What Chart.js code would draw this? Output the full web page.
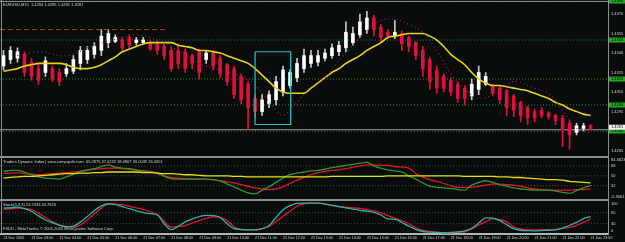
<!DOCTYPE html>
<html>
<head>
<meta charset="utf-8">
<script src="https://cdn.jsdelivr.net/npm/chart.js@4.4.0/dist/chart.umd.min.js"></script>
<style>
  html, body { margin: 0; padding: 0; background: #080c0a; }
</style>
</head>
<body>
<canvas id="mt4" width="625" height="242"></canvas>
<script>
// EURUSD M15, 21 Dec 2005, one bar every 15 minutes from 02:00 to 23:00
const hourLabels = ['21 Dec 2005', '21 Dec 03:00', '21 Dec 04:00', '21 Dec 05:00', '21 Dec 06:00', '21 Dec 07:00',
  '21 Dec 08:00', '21 Dec 09:00', '21 Dec 10:00', '21 Dec 11:00', '21 Dec 12:00', '21 Dec 13:00', '21 Dec 14:00',
  '21 Dec 15:00', '21 Dec 16:00', '21 Dec 17:00', '21 Dec 18:00', '21 Dec 19:00', '21 Dec 20:00', '21 Dec 21:00',
  '21 Dec 22:00', '21 Dec 23:00'];
const barsPerLabel = 4;

const opens = [1.4330, 1.4335, 1.4336, 1.4339, 1.4333, 1.4328, 1.4325, 1.4328, 1.4325, 1.4324,
  1.4326, 1.4332, 1.4335, 1.4339, 1.4342, 1.4348, 1.4349, 1.4350, 1.4352, 1.4348,
  1.4348, 1.4348, 1.4347, 1.4345, 1.4342, 1.4342, 1.4341, 1.4338, 1.4341, 1.4335,
  1.4341, 1.4336, 1.4331, 1.4328, 1.4322, 1.4316, 1.4305, 1.4295, 1.4301, 1.4304,
  1.4310, 1.4315, 1.4321, 1.4328, 1.4332, 1.4333, 1.4336, 1.4338, 1.4341, 1.4344,
  1.4348, 1.4354, 1.4358, 1.4367, 1.4360, 1.4356, 1.4353, 1.4355, 1.4352, 1.4348,
  1.4342, 1.4335, 1.4327, 1.4322, 1.4319, 1.4316, 1.4313, 1.4307, 1.4312, 1.4316,
  1.4315, 1.4313, 1.4311, 1.4307, 1.4302, 1.4298, 1.4295, 1.4296, 1.4294, 1.4292,
  1.4290, 1.4286, 1.4279, 1.4282, 1.4284];
const highs = [1.4342, 1.4345, 1.4344, 1.4341, 1.4336, 1.4332, 1.4337, 1.4330, 1.4328, 1.4332,
  1.4338, 1.4345, 1.4345, 1.4348, 1.4358, 1.4358, 1.4354, 1.4352, 1.4354, 1.4352,
  1.4352, 1.4350, 1.4349, 1.4347, 1.4345, 1.4347, 1.4343, 1.4339, 1.4343, 1.4342,
  1.4342, 1.4338, 1.4332, 1.4330, 1.4324, 1.4318, 1.4308, 1.4308, 1.4311, 1.4322,
  1.4330, 1.4327, 1.4336, 1.4343, 1.4342, 1.4342, 1.4343, 1.4347, 1.4349, 1.4364,
  1.4360, 1.4370, 1.4372, 1.4369, 1.4362, 1.4358, 1.4365, 1.4357, 1.4353, 1.4349,
  1.4345, 1.4337, 1.4330, 1.4324, 1.4321, 1.4318, 1.4315, 1.4320, 1.4330, 1.4325,
  1.4316, 1.4315, 1.4312, 1.4308, 1.4303, 1.4299, 1.4297, 1.4298, 1.4295, 1.4293,
  1.4292, 1.4288, 1.4286, 1.4286, 1.4285];
const lows = [1.4327, 1.4332, 1.4333, 1.4322, 1.4319, 1.4316, 1.4322, 1.4318, 1.4315, 1.4322,
  1.4324, 1.4327, 1.4332, 1.4336, 1.4338, 1.4344, 1.4348, 1.4342, 1.4343, 1.4346,
  1.4347, 1.4342, 1.4339, 1.4335, 1.4326, 1.4328, 1.4325, 1.4328, 1.4320, 1.4332,
  1.4327, 1.4321, 1.4315, 1.4305, 1.4301, 1.4281, 1.4290, 1.4292, 1.4298, 1.4300,
  1.4307, 1.4313, 1.4318, 1.4325, 1.4329, 1.4330, 1.4334, 1.4336, 1.4338, 1.4341,
  1.4346, 1.4352, 1.4355, 1.4353, 1.4348, 1.4352, 1.4351, 1.4342, 1.4341, 1.4335,
  1.4322, 1.4312, 1.4309, 1.4310, 1.4307, 1.4302, 1.4300, 1.4304, 1.4308, 1.4315,
  1.4307, 1.4301, 1.4292, 1.4291, 1.4287, 1.4285, 1.4287, 1.4290, 1.4289, 1.4285,
  1.4268, 1.4266, 1.4277, 1.4280, 1.4281];
const closes = [1.4338, 1.4342, 1.4341, 1.4325, 1.4322, 1.4319, 1.4334, 1.4320, 1.4318, 1.4328,
  1.4335, 1.4342, 1.4342, 1.4345, 1.4353, 1.4355, 1.4352, 1.4344, 1.4346, 1.4350,
  1.4350, 1.4343, 1.4342, 1.4338, 1.4328, 1.4332, 1.4328, 1.4332, 1.4325, 1.4340,
  1.4330, 1.4324, 1.4318, 1.4308, 1.4304, 1.4298, 1.4295, 1.4304, 1.4308, 1.4318,
  1.4327, 1.4325, 1.4332, 1.4338, 1.4338, 1.4338, 1.4340, 1.4344, 1.4346, 1.4356,
  1.4355, 1.4364, 1.4367, 1.4358, 1.4352, 1.4353, 1.4356, 1.4347, 1.4345, 1.4338,
  1.4328, 1.4318, 1.4313, 1.4313, 1.4310, 1.4305, 1.4305, 1.4316, 1.4325, 1.4322,
  1.4309, 1.4304, 1.4298, 1.4296, 1.4292, 1.4290, 1.4290, 1.4292, 1.4291, 1.4288,
  1.4281, 1.4277, 1.4284, 1.4284, 1.4281];

// yellow moving average
const maLine = [1.4326, 1.4327, 1.4328, 1.4330, 1.4331, 1.4332, 1.4332, 1.4332, 1.4332, 1.4331,
  1.4329, 1.4328, 1.4328, 1.4329, 1.4331, 1.4334, 1.4337, 1.4341, 1.4343, 1.4345,
  1.4347, 1.4348, 1.4348, 1.4348, 1.4348, 1.4346, 1.4345, 1.4344, 1.4342, 1.4342,
  1.4341, 1.4340, 1.4338, 1.4336, 1.4334, 1.4332, 1.4328, 1.4323, 1.4318, 1.4313,
  1.4310, 1.4309, 1.4309, 1.4309, 1.4313, 1.4317, 1.4321, 1.4325, 1.4328, 1.4332,
  1.4335, 1.4338, 1.4342, 1.4345, 1.4348, 1.4352, 1.4353, 1.4354, 1.4355, 1.4355,
  1.4355, 1.4353, 1.4350, 1.4345, 1.4339, 1.4335, 1.4331, 1.4325, 1.4320, 1.4317,
  1.4315, 1.4315, 1.4314, 1.4313, 1.4312, 1.4311, 1.4309, 1.4307, 1.4305, 1.4302,
  1.4300, 1.4297, 1.4295, 1.4293, 1.4292];

// dotted purple curve, read at some bars only
const dotBars = [2, 5, 9, 13, 17, 19, 22, 25, 28, 31, 34, 36, 39, 40, 42, 44, 46, 48, 50, 52,
  54, 56, 58, 60, 62, 64, 66, 68, 70, 73, 76, 78, 80, 82, 84];
const dotPrices = [1.4338, 1.4341, 1.4338, 1.4346, 1.4352, 1.4354, 1.4350, 1.4342, 1.4332, 1.4327,
  1.4322, 1.4315, 1.4296, 1.4292, 1.4302, 1.4314, 1.4321, 1.4334, 1.4346, 1.4357,
  1.4365, 1.4366, 1.4362, 1.4356, 1.4342, 1.4324, 1.4312, 1.4305, 1.4308, 1.4318,
  1.4313, 1.4309, 1.4296, 1.4282, 1.4278];

const priceTicks = [1.4265, 1.4280, 1.4295, 1.4310, 1.4325, 1.4340, 1.4355, 1.4370];
const priceRange = [1.4260, 1.43808];
const levelPrices = [1.4380, 1.4350, 1.4320, 1.4300, 1.4280];
const bidPrice = 1.4281;
const resistPrice = 1.4358;
const resistBars = [-0.5, 23.5];
const boxBars = [36.0, 41.1];
const boxPrices = [1.4341, 1.4285];

// Traders Dynamic Index
const tdiRsi = [58, 60, 60, 57, 52, 48, 46, 45, 44, 48, 53, 58, 61, 63, 67, 70, 66, 64, 63, 61,
  59, 57, 56, 49, 45, 44, 44, 44, 44, 44, 43, 41, 35, 30, 24, 19, 17, 24, 30, 38,
  46, 52, 55, 57, 59, 60, 62, 65, 67, 69, 71, 73, 75, 68, 64, 61, 59, 57, 50, 44,
  37, 31, 29, 28, 27, 25, 24, 33, 38, 41, 38, 34, 31, 28, 26, 25, 24, 24, 24, 22,
  20, 18, 23, 28, 32];
const tdiSignal = [54, 55, 56, 54, 53, 52, 53, 54, 55, 56, 57, 58, 60, 62, 63, 64, 64, 63, 62, 60,
  59, 58, 54, 50, 47, 46, 45, 44, 44, 44, 43, 41, 39, 37, 34, 31, 28, 26, 25, 26,
  30, 36, 42, 47, 52, 56, 58, 60, 61, 63, 66, 68, 70, 70, 69, 69, 67, 66, 64, 54,
  48, 43, 40, 36, 32, 29, 29, 29, 31, 33, 35, 35, 34, 33, 31, 28, 26, 25, 24, 24,
  24, 24, 25, 25, 26];
const tdiBase = [46, 47, 48, 49, 49, 50, 51, 52, 53, 54, 54, 55, 55, 56, 56, 57, 57, 57, 57, 57,
  56, 56, 55, 54, 54, 53, 52, 52, 51, 50, 50, 50, 50, 49, 49, 48, 48, 48, 48, 48,
  48, 48, 48, 48, 48, 48, 48, 49, 49, 49, 49, 49, 49, 49, 49, 50, 50, 50, 50, 50,
  50, 50, 50, 50, 50, 50, 49, 49, 49, 49, 49, 48, 48, 47, 47, 46, 45, 44, 43, 43,
  42, 40, 39, 38, 37];
const tdiLevels = [32, 50, 68];
const tdiRange = [5.9001, 84.3623];

// Stochastic
const stochMain = [80, 81, 83, 78, 70, 55, 42, 33, 25, 20, 22, 35, 53, 72, 87, 94, 91, 85, 78, 71,
  66, 62, 58, 30, 11, 22, 36, 45, 53, 57, 56, 50, 30, 14, 12, 10, 10, 14, 24, 50,
  75, 88, 95, 96, 96, 96, 93, 89, 85, 81, 77, 73, 70, 66, 58, 45, 44, 34, 22, 12,
  5, 3, 2, 1, 2, 4, 7, 15, 32, 49, 48, 40, 27, 14, 9, 8, 7, 8, 9, 10,
  16, 25, 34, 46, 53];
const stochSignal = [76, 78, 80, 79, 75, 64, 50, 36, 26, 21, 18, 26, 42, 62, 80, 93, 93, 91, 86, 81,
  76, 68, 60, 38, 19, 21, 24, 32, 40, 47, 52, 50, 40, 20, 10, 10, 10, 14, 21, 37,
  54, 70, 86, 94, 96, 96, 93, 89, 85, 83, 81, 79, 75, 71, 65, 56, 48, 40, 30, 17,
  9, 5, 3, 1, 1, 2, 4, 14, 26, 36, 46, 43, 36, 20, 13, 10, 10, 11, 11, 12,
  15, 18, 25, 34, 46];
const stochLevels = [30, 65];
const stochRange = [-3, 106];

const mainTitle = 'EURUSD,M15  1.4284 1.4285 1.4281 1.4281';
const tdiTitle = 'Traders Dynamic Index | www.compipsfx.com  65.2875 37.0232 18.4807 33.0039 26.2651';
const stochTitle = 'Stoch(5,3,3) 53.2333 45.7826';
const footer = 'FXDD - MetaTrader, \u00a9 2001-2005 MetaQuotes Software Corp.';

const BG = '#080c0a';
const BULL = '#ffffff';
const BEAR = '#e0103c';
const TXT = '#d4d4d4';
const FONT = 'Liberation Sans';

const xy = (arr) => arr.map((v, i) => ({x: i, y: v}));
const flat = (v, a, b) => [{x: a, y: v}, {x: b, y: v}];
const lastSlot = 86.5;

const frame = {
  id: 'frame',
  beforeDraw(chart) {
    const c = chart.ctx;
    c.save();
    c.fillStyle = BG;
    c.fillRect(0, 0, chart.width, chart.height);
    c.restore();
  },
  afterDraw(chart) {
    const c = chart.ctx, a = chart.chartArea, s = chart.scales;
    c.save();
    c.strokeStyle = '#8e8e8e';
    c.lineWidth = 2;
    [s.yMain.bottom, s.yTdi.bottom].forEach(y => {
      c.beginPath(); c.moveTo(0, y); c.lineTo(a.right, y); c.stroke();
    });
    c.lineWidth = 1;
    c.beginPath(); c.moveTo(1.5, 0); c.lineTo(1.5, a.bottom); c.stroke();
    c.beginPath(); c.moveTo(0, 1.5); c.lineTo(a.right, 1.5); c.stroke();

    c.font = '4px "' + FONT + '"';
    c.textBaseline = 'top';
    c.fillStyle = TXT;
    c.fillText(mainTitle, 3, 3);
    c.fillText(tdiTitle, 3, s.yTdi.top + 3);
    c.fillText(stochTitle, 3, s.yStoch.top + 3);
    c.fillText(footer, 3, s.yStoch.bottom - 7);

    // window range labels
    c.textBaseline = 'middle';
    const rx = a.right + 3;
    c.fillText(tdiRange[1].toFixed(4), rx, s.yTdi.top + 3);
    c.fillText('-' + tdiRange[0].toFixed(4), rx, s.yTdi.bottom - 3);
    c.fillText('100', rx, s.yStoch.top + 4);
    c.fillText('0', rx, s.yStoch.bottom - 3);

    // price boxes of the horizontal levels and the bid
    levelPrices.forEach(p => {
      const y = s.yMain.getPixelForValue(p);
      c.fillStyle = '#23a823';
      c.fillRect(a.right + 1, y - 2.5, 16, 5);
      c.fillStyle = '#000';
      c.fillText(p.toFixed(4), a.right + 3, y);
    });
    const by = s.yMain.getPixelForValue(bidPrice);
    c.fillStyle = '#f4f4f4';
    c.fillRect(a.right + 1, by - 5, 16, 5);
    c.fillStyle = '#000';
    c.fillText(bidPrice.toFixed(4), a.right + 3, by - 2.5);
    c.restore();
  }
};

const yBase = (weight, range) => ({
  type: 'linear', position: 'right', stack: 'panes', stackWeight: weight,
  min: range[0], max: range[1],
  grid: {display: false, drawTicks: false},
  border: {display: true, color: '#8e8e8e', width: 1},
  ticks: {color: TXT, font: {size: 4, family: FONT}, padding: 3, autoSkip: false},
  afterFit: (sc) => { sc.width = 17; sc.paddingTop = 0; sc.paddingBottom = 0; }
});

const scales = {
  x: {
    type: 'linear', min: -0.5, max: lastSlot, position: 'bottom', offset: false,
    grid: {display: false, drawTicks: false},
    border: {display: true, color: '#b4b4b4', width: 2},
    ticks: {
      color: TXT, font: {size: 3.7, family: FONT}, align: 'start', maxRotation: 0, autoSkip: false, padding: 2,
      callback: (v) => hourLabels[v / barsPerLabel]
    },
    afterBuildTicks: (sc) => { sc.ticks = hourLabels.map((_, k) => ({value: k * barsPerLabel})); },
    afterFit: (sc) => { sc.height = 8; sc.paddingLeft = 0; sc.paddingRight = 0; }
  },
  yMain: Object.assign(yBase(157, priceRange), {
    afterBuildTicks: (sc) => { sc.ticks = priceTicks.map(v => ({value: v})); }
  }),
  yTdi: Object.assign(yBase(43, tdiRange), {
    afterBuildTicks: (sc) => { sc.ticks = tdiLevels.map(v => ({value: v})); }
  }),
  yStoch: Object.assign(yBase(34, stochRange), {
    afterBuildTicks: (sc) => { sc.ticks = stochLevels.map(v => ({value: v})); }
  })
};
scales.yMain.ticks.callback = (v) => v.toFixed(4);

const line = (data, axis, color, width, extra) => Object.assign({
  type: 'line', data, yAxisID: axis, borderColor: color, borderWidth: width,
  pointRadius: 0, fill: false, tension: 0, order: 1
}, extra || {});

const datasets = [
  {
    type: 'bar', yAxisID: 'yMain', grouped: false, order: 6, barThickness: 1,
    data: lows.map((l, i) => ({x: i, y: [l, highs[i]]})),
    backgroundColor: opens.map((o, i) => closes[i] >= o ? '#c8c8c8' : BEAR)
  },
  {
    type: 'bar', yAxisID: 'yMain', grouped: false, order: 5, barThickness: 3, minBarLength: 1,
    data: opens.map((o, i) => ({x: i, y: [o, closes[i]]})),
    backgroundColor: opens.map((o, i) => closes[i] >= o ? BULL : BEAR)
  },
  ...levelPrices.map(p => line(flat(p, -0.5, lastSlot), 'yMain', '#1f8a1f', 1, {borderDash: [1, 2], order: 9})),
  line(flat(bidPrice, -0.5, lastSlot), 'yMain', '#9a9a9a', 1, {order: 8}),
  line(flat(resistPrice, resistBars[0], resistBars[1]), 'yMain', '#a0483c', 1, {borderDash: [5, 3]}),
  line([
    {x: boxBars[0], y: boxPrices[0]}, {x: boxBars[1], y: boxPrices[0]},
    {x: boxBars[1], y: boxPrices[1]}, {x: boxBars[0], y: boxPrices[1]}, {x: boxBars[0], y: boxPrices[0]}
  ], 'yMain', '#22c8d0', 1.2),
  line(dotBars.map((b, k) => ({x: b, y: dotPrices[k]})), 'yMain', '#9b1c6e', 1.2, {borderDash: [1, 3], tension: 0.4}),
  line(xy(maLine), 'yMain', '#e6d21a', 1.6, {cubicInterpolationMode: 'monotone'}),

  ...tdiLevels.map(v => line(flat(v, -0.5, lastSlot), 'yTdi', '#4c4c56', 1, {borderDash: [1, 2], order: 9})),
  line(xy(tdiBase), 'yTdi', '#e2e012', 1.3, {cubicInterpolationMode: 'monotone'}),
  line(xy(tdiRsi), 'yTdi', '#2e962e', 1.3, {cubicInterpolationMode: 'monotone'}),
  line(xy(tdiSignal), 'yTdi', '#e3142d', 1.3, {cubicInterpolationMode: 'monotone'}),

  ...stochLevels.map(v => line(flat(v, -0.5, lastSlot), 'yStoch', '#4c4c56', 1, {borderDash: [1, 2], order: 9})),
  line(xy(stochMain), 'yStoch', '#2ab3aa', 1.3, {cubicInterpolationMode: 'monotone'}),
  line(xy(stochSignal), 'yStoch', '#e3142d', 1.3, {cubicInterpolationMode: 'monotone'})
];

new Chart(document.getElementById('mt4'), {
  type: 'bar',
  data: {datasets},
  options: {
    responsive: false,
    animation: false,
    devicePixelRatio: 1,
    layout: {padding: 0},
    plugins: {legend: {display: false}, tooltip: {enabled: false}},
    scales
  },
  plugins: [frame]
});
</script>
</body>
</html>
